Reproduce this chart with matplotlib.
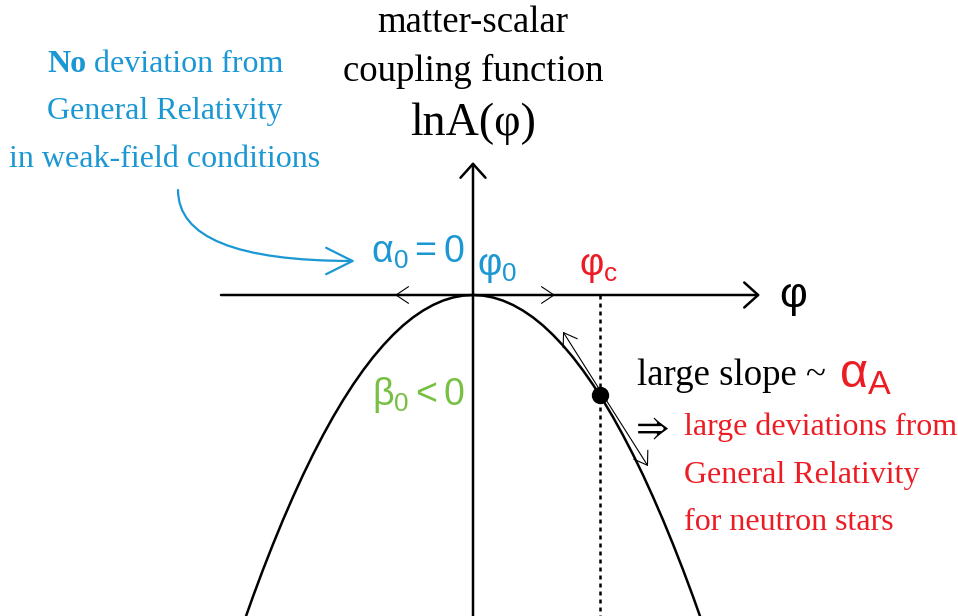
import matplotlib
matplotlib.use('Agg')
import matplotlib.pyplot as plt
from matplotlib.patches import FancyArrowPatch

# --- DATA (1 unit = 100 px) ---
phi = [-2.3, -2.2, -2.1, -2.0, -1.9, -1.8, -1.7, -1.6, -1.5, -1.4, -1.3, -1.2,
       -1.1, -1.0, -0.9, -0.8, -0.7, -0.6, -0.5, -0.4, -0.3, -0.2, -0.1, 0.0,
       0.1, 0.2, 0.3, 0.4, 0.5, 0.6, 0.7, 0.8, 0.9, 1.0, 1.1, 1.2,
       1.3, 1.4, 1.5, 1.6, 1.7, 1.8, 1.9, 2.0, 2.1, 2.2, 2.3]
lnA = [-3.296, -3.015, -2.747, -2.492, -2.249, -2.019, -1.800, -1.595, -1.402, -1.221,
       -1.053, -0.897, -0.754, -0.623, -0.505, -0.399, -0.305, -0.224, -0.156, -0.100,
       -0.056, -0.025, -0.006, 0.000, -0.006, -0.025, -0.056, -0.100, -0.156, -0.224,
       -0.305, -0.399, -0.505, -0.623, -0.754, -0.897, -1.053, -1.221, -1.402, -1.595,
       -1.800, -2.019, -2.249, -2.492, -2.747, -3.015, -3.296]
phi_c, lnA_c = 1.27, -1.0         # strong-field point
slope_c = -1.58                   # tangent slope at phi_c
tangent_reach = [-0.40, 0.45]     # how far the tangent arrows go
vertex_reach = [-0.78, 0.82]      # tangent arrows at phi_0 (on the axis)

BLUE = '#1b97d3'
RED = '#ec1c24'
GREEN = '#78c043'
SERIF = ['Liberation Serif', 'DejaVu Serif']
SANS = ['Liberation Sans', 'DejaVu Sans']

plt.rcParams['mathtext.fontset'] = 'custom'
plt.rcParams['mathtext.rm'] = 'Liberation Sans'
plt.rcParams['mathtext.it'] = 'Liberation Sans'
plt.rcParams['mathtext.default'] = 'rm'

fig = plt.figure(figsize=(9.58, 6.16), dpi=100)
ax = fig.add_axes([0, 0, 1, 1])
ax.set_xlim(-4.73, 4.85)
ax.set_ylim(-3.21, 2.95)
ax.axis('off')

# axes with open arrow heads
big_head = dict(arrowstyle='->,head_length=1.0,head_width=0.9', lw=1.8,
                color='black', shrinkA=0, shrinkB=0, mutation_scale=10)
ax.annotate('', xy=(2.87, 0), xytext=(-2.52, 0), arrowprops=big_head)
ax.annotate('', xy=(0, 1.33), xytext=(0, -3.4), arrowprops=big_head)

# coupling function
ax.plot(phi, lnA, color='black', lw=1.8, solid_joinstyle='round')

# tangent at phi_0 (lies on the axis)
small_head = dict(arrowstyle='->,head_length=0.9,head_width=0.6', lw=0.8,
                  color='black', shrinkA=0, shrinkB=0, mutation_scale=10)
for d in vertex_reach:
    ax.annotate('', xy=(d, 0), xytext=(0, 0), arrowprops=small_head)

# phi_c marker, dotted guide and tangent
ax.plot([phi_c, phi_c], [0, -3.4], color='black', lw=1.8, linestyle=(0, (1.6, 1.6)))
ax.plot([phi_c], [lnA_c], 'o', color='black', markersize=11.5)
for d in tangent_reach:
    ax.annotate('', xy=(phi_c + d + 0.03, lnA_c + slope_c * d),
                xytext=(phi_c + 0.03, lnA_c), arrowprops=small_head)

# title of the vertical axis
ax.text(0, 2.63, 'matter-scalar', ha='center', va='baseline', fontsize=26.5, family=SERIF)
ax.text(0, 2.14, 'coupling function', ha='center', va='baseline', fontsize=26.5, family=SERIF)
ax.text(0, 1.60, 'lnA(φ)', ha='center', va='baseline', fontsize=33, family=SERIF)
ax.text(3.06, -0.12, 'φ', ha='left', va='baseline', fontsize=31, family=SANS)

# left annotation (blue)
no = ax.text(-4.26, 2.23, 'No', ha='left', va='baseline', fontsize=23,
             family=SERIF, weight='bold', color=BLUE)
ax.annotate(' deviation from', xy=(1, 0), xycoords=no, ha='left', va='bottom',
            fontsize=23, family=SERIF, color=BLUE)
ax.text(-3.08, 1.76, 'General Relativity', ha='center', va='baseline', fontsize=23,
        family=SERIF, color=BLUE)
ax.text(-3.08, 1.28, 'in weak-field conditions', ha='center', va='baseline', fontsize=23,
        family=SERIF, color=BLUE)
ax.add_patch(FancyArrowPatch((-2.95, 1.05), (-1.18, 0.34),
                             connectionstyle='angle3,angleA=-90,angleB=0',
                             arrowstyle='->,head_length=1.9,head_width=0.95',
                             mutation_scale=10, lw=1.6, color=BLUE,
                             shrinkA=0, shrinkB=0))

ax.text(-1.02, 0.32, r'$\alpha_0 = 0$', ha='left', va='baseline', fontsize=27, color=BLUE)
ax.text(0.04, 0.20, r'$\varphi_0$', ha='left', va='baseline', fontsize=27, color=BLUE)
ax.text(1.06, 0.20, r'$\varphi_c$', ha='left', va='baseline', fontsize=27, color=RED)
ax.text(-1.01, -1.10, r'$\beta_0 < 0$', ha='left', va='baseline', fontsize=27, color=GREEN)

# right annotation
ax.text(1.64, -0.90, 'large slope ~', ha='left', va='baseline', fontsize=26.5, family=SERIF)
ax.text(3.66, -0.92, r'$\alpha_A$', ha='left', va='baseline', fontsize=35, color=RED)
ax.text(1.63, -1.42, '⇒', ha='left', va='baseline', fontsize=26.5,
        family=['STIXGeneral', 'DejaVu Sans'])
ax.text(2.11, -1.40, 'large deviations from', ha='left', va='baseline', fontsize=23,
        family=SERIF, color=RED)
ax.text(2.11, -1.88, 'General Relativity', ha='left', va='baseline', fontsize=23,
        family=SERIF, color=RED)
ax.text(2.11, -2.35, 'for neutron stars', ha='left', va='baseline', fontsize=23,
        family=SERIF, color=RED)

fig.savefig('out.png', dpi=100)
